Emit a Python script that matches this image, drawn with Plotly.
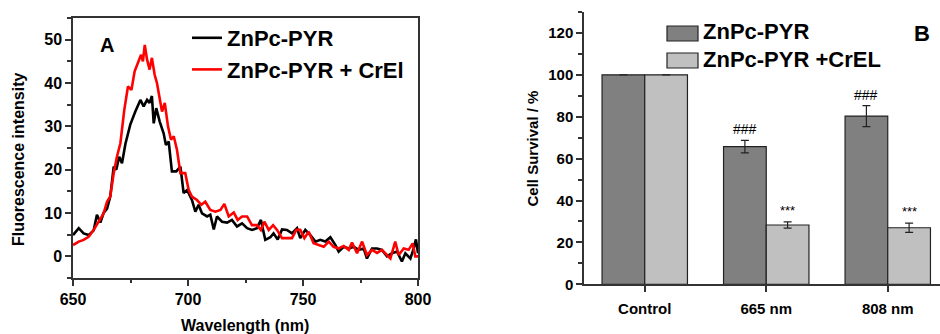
import plotly.graph_objects as go

# ---------------- Panel A data (fluorescence spectra) ----------------
wl_pyr = [650, 652.5, 654.6, 656.8, 659, 660.4, 661.9, 663.3, 664.8, 666.2, 667.7, 668.8, 670.1,
          671.3, 672.8, 674.9, 677.1, 679.3, 680.7, 682.2, 683.3, 684.3, 685.1, 686.2, 687.7, 689.4,
          690.4, 691.6, 693, 694.9, 696.7, 698.1, 699.6, 701.7, 703.2, 704.6, 706.1, 708.3, 709.7,
          711.2, 712.6, 714.8, 717, 719.1, 721.3, 723.5, 725.7, 727.8, 730, 731.7, 733.6, 735.8,
          737.2, 739, 740.9, 743, 745.2, 747.4, 748.8, 751, 753.2, 755.4, 757.5, 759.7, 761.9,
          764.1, 765.5, 767.7, 769.9, 772, 774.2, 776.4, 777.8, 780, 782.2, 784.3, 786.5, 788.7,
          790.9, 793, 794.5, 796.7, 798.1, 799.1, 800]
int_pyr = [4.9, 6.5, 5.3, 4.9, 6.0, 9.6, 7.8, 10.0, 11.0, 13.8, 20.7, 20.0, 23.0,
           21.5, 26.0, 30.4, 33.4, 36.1, 34.6, 36.1, 35.4, 37.0, 30.7, 34.2, 31.1, 28.4,
           25.7, 26.5, 19.6, 19.6, 20.7, 14.6, 15.3, 13.0, 10.3, 11.9, 9.9, 9.2, 9.6,
           6.2, 9.2, 8.0, 7.8, 8.4, 6.9, 7.6, 6.5, 6.1, 6.5, 8.4, 3.8, 4.4,
           5.3, 3.9, 6.2, 6.1, 5.3, 6.5, 4.2, 6.1, 4.9, 3.4, 3.8, 3.4, 4.4,
           2.6, 1.1, 2.2, 1.8, 2.2, 1.5, 1.8, -0.5, 1.8, 1.8, 1.5, 0.0, 0.7,
           1.1, -1.2, 0.7, -0.5, 1.8, 3.9, 0.7]

wl_crel = [650, 652.5, 654.6, 656.8, 659, 661.2, 663.3, 664.8, 666.2, 667.7, 669.1, 670.6, 672.3,
           673.9, 675.4, 676.8, 678.6, 679.6, 680.4, 681.2, 682.2, 683.3, 684.3, 685.5, 686.5,
           687.7, 688.7, 689.9, 691.3, 692.6, 693.8, 695.2, 696.7, 698.8, 700.3, 701.7, 703.9,
           705.8, 707.5, 709.7, 711.9, 714.1, 715.8, 717.7, 719.9, 721.6, 723.5, 725.7, 727.8,
           730, 731.7, 733.2, 735.1, 737, 738.7, 740.9, 743, 745.2, 747.1, 748.8, 750.6, 752.5,
           754.6, 756.8, 759, 761.2, 763.3, 765.5, 767.7, 769.9, 771.3, 773.5, 775.7, 777.8,
           780, 782.2, 784.3, 786.5, 788, 790.1, 791.6, 793.8, 795.9, 797.7, 798.8, 800]
int_crel = [2.6, 3.4, 3.8, 4.5, 6.1, 8.0, 9.9, 12.6, 13.8, 19.2, 23.0, 26.1, 33.8,
            39.2, 38.4, 42.7, 45.0, 46.5, 45.0, 48.8, 45.4, 43.1, 45.8, 41.9, 40.0,
            36.1, 33.4, 35.4, 30.0, 26.9, 27.7, 24.6, 19.2, 19.2, 15.3, 13.8, 13.0,
            11.9, 12.6, 10.7, 10.3, 10.7, 12.1, 9.2, 10.1, 8.4, 9.2, 9.2, 7.2,
            7.2, 6.1, 8.0, 6.1, 7.2, 6.1, 4.2, 4.2, 4.2, 6.1, 6.1, 4.2, 5.7,
            3.0, 2.6, 2.2, 3.4, 2.2, 1.8, 2.4, 1.5, 3.2, 0.7, 3.4, 0.3,
            1.5, 0.8, 1.5, 0.3, -0.5, 3.4, 0.3, 1.8, 1.5, 3.0, 0.0, 0.0]

spectra_names = ["ZnPc-PYR", "ZnPc-PYR + CrEl"]

# ---------------- Panel B data (cell survival) ----------------
categories = ["Control", "665 nm", "808 nm"]
survival_pyr = [100, 65.7, 80.3]
survival_pyr_err = [0, 3.0, 5.0]
survival_crel = [100, 28.3, 27.0]
survival_crel_err = [0, 1.5, 2.2]
bar_names = ["ZnPc-PYR", "ZnPc-PYR +CrEL"]
sig_pyr = ["", "###", "###"]
sig_crel = ["", "***", "***"]

FONT = "Liberation Sans, Arial, sans-serif"
W, H = 940, 334
AX = "#333333"


def px(xp):
    return xp / W


def py(yp):
    return 1 - yp / H


fig = go.Figure()

fig.add_trace(go.Scatter(x=wl_pyr, y=int_pyr, mode="lines", name=spectra_names[0],
                         line=dict(color="black", width=2.6), xaxis="x", yaxis="y", legend="legend"))
fig.add_trace(go.Scatter(x=wl_crel, y=int_crel, mode="lines", name=spectra_names[1],
                         line=dict(color="#ff0000", width=2.6), xaxis="x", yaxis="y", legend="legend"))

BAR_DARK = "#808080"
BAR_LIGHT = "#c0c0c0"
fig.add_trace(go.Bar(x=categories, y=survival_pyr, name=bar_names[0], xaxis="x2", yaxis="y2",
                     marker=dict(color=BAR_DARK, line=dict(color="#222222", width=1.2)),
                     error_y=dict(type="data", array=survival_pyr_err, color="#222222",
                                  thickness=1.2, width=4),
                     showlegend=False))
fig.add_trace(go.Bar(x=categories, y=survival_crel, name=bar_names[1], xaxis="x2", yaxis="y2",
                     marker=dict(color=BAR_LIGHT, line=dict(color="#222222", width=1.2)),
                     error_y=dict(type="data", array=survival_crel_err, color="#222222",
                                  thickness=1.2, width=4),
                     showlegend=False))

bargap = 0.297
half = (1 - bargap) / 4.0

annotations = []
for i, c in enumerate(categories):
    if sig_pyr[i]:
        annotations.append(dict(x=i - half, y=survival_pyr[i] + survival_pyr_err[i] + 0.5,
                                xref="x2", yref="y2", text=sig_pyr[i], showarrow=False,
                                xanchor="center", yanchor="bottom",
                                font=dict(family=FONT, size=14, color="black")))
    if sig_crel[i]:
        annotations.append(dict(x=i + half, y=survival_crel[i] + survival_crel_err[i] + 0.8,
                                xref="x2", yref="y2", text=sig_crel[i], showarrow=False,
                                xanchor="center", yanchor="bottom",
                                font=dict(family=FONT, size=13, color="black")))

# axis titles and panel labels
def label(x, y, text, size, angle=0):
    return dict(x=px(x), y=py(y), xref="paper", yref="paper", text=text, showarrow=False,
                xanchor="center", yanchor="middle", textangle=angle,
                font=dict(family=FONT, size=size, color="black", weight="bold"))


annotations += [
    label(245, 325, "Wavelength (nm)", 16),
    label(18, 160, "Fluorescence intensity", 16, -90),
    label(532, 148.5, "Cell Survival / %", 15, -90),
    label(107, 45, "A", 20),
    label(922, 33, "B", 22),
]

# legend for panel B (rectangular swatches)
shapes = []
sw_colors = [BAR_DARK, BAR_LIGHT]
sw_tops = [26, 53]
for name, col, top in zip(bar_names, sw_colors, sw_tops):
    shapes.append(dict(type="rect", xref="paper", yref="paper", x0=px(667), x1=px(698),
                       y0=py(top + 15), y1=py(top), fillcolor=col, line=dict(color="#222222", width=1.2)))
    annotations.append(dict(x=px(701), y=py(top + 6), xref="paper", yref="paper", text=name,
                            showarrow=False, xanchor="left", yanchor="middle",
                            font=dict(family=FONT, size=22, color="black", weight="bold")))

tickfont_a = dict(family=FONT, size=16, color="black", weight="bold")
tickfont_b = dict(family=FONT, size=15, color="black", weight="bold")

fig.update_layout(
    template="none",
    width=W, height=H, margin=dict(l=0, r=0, t=0, b=0, pad=0, autoexpand=False),
    paper_bgcolor="white", plot_bgcolor="white",
    barmode="group", bargap=bargap, bargroupgap=0,
    font=dict(family=FONT, color="black"),
    xaxis=dict(domain=[px(73), px(418)], range=[650, 800], anchor="y", automargin=False,
               showline=True, linecolor=AX, linewidth=1.5, mirror=True,
               ticks="outside", ticklen=6, tickwidth=1.5, tickcolor=AX,
               tickvals=[650, 700, 750, 800], tickfont=tickfont_a, showgrid=False, zeroline=False,
               minor=dict(tickvals=[675, 725, 775], ticks="outside", ticklen=3, tickcolor=AX, showgrid=False)),
    yaxis=dict(domain=[py(278), py(18)], range=[-5, 55], anchor="x", automargin=False,
               showline=True, linecolor=AX, linewidth=1.5, mirror=True,
               ticks="outside", ticklen=6, tickwidth=1.5, tickcolor=AX,
               tickvals=[0, 10, 20, 30, 40, 50], tickfont=tickfont_a, showgrid=False, zeroline=False,
               minor=dict(tickvals=[-5, 5, 15, 25, 35, 45, 55], ticks="outside", ticklen=4,
                          tickcolor=AX, showgrid=False)),
    xaxis2=dict(domain=[px(584), 1.0], range=[-0.5, 2.43], anchor="y2", type="category",
                automargin=False, showline=True, linecolor=AX, linewidth=1.5,
                ticks="outside", ticklen=6, tickwidth=1.5, tickcolor=AX,
                tickfont=tickfont_b, showgrid=False, zeroline=False, ticklabelstandoff=4),
    yaxis2=dict(domain=[py(284.3), py(12)], range=[0, 130], anchor="x2", automargin=False,
                showline=True, linecolor=AX, linewidth=1.5,
                ticks="outside", ticklen=6, tickwidth=1.5, tickcolor=AX,
                tickvals=[0, 20, 40, 60, 80, 100, 120], tickfont=tickfont_b,
                showgrid=False, zeroline=False,
                minor=dict(tickvals=[10, 30, 50, 70, 90, 110, 130], ticks="outside", ticklen=4,
                           tickcolor=AX, showgrid=False)),
    legend=dict(x=px(187), y=py(17), xanchor="left", yanchor="top", bgcolor="rgba(0,0,0,0)",
                font=dict(family=FONT, size=22, color="black", weight="bold"),
                tracegroupgap=0, itemwidth=30),
    annotations=annotations,
    shapes=shapes,
)

fig.write_html("out.html")
